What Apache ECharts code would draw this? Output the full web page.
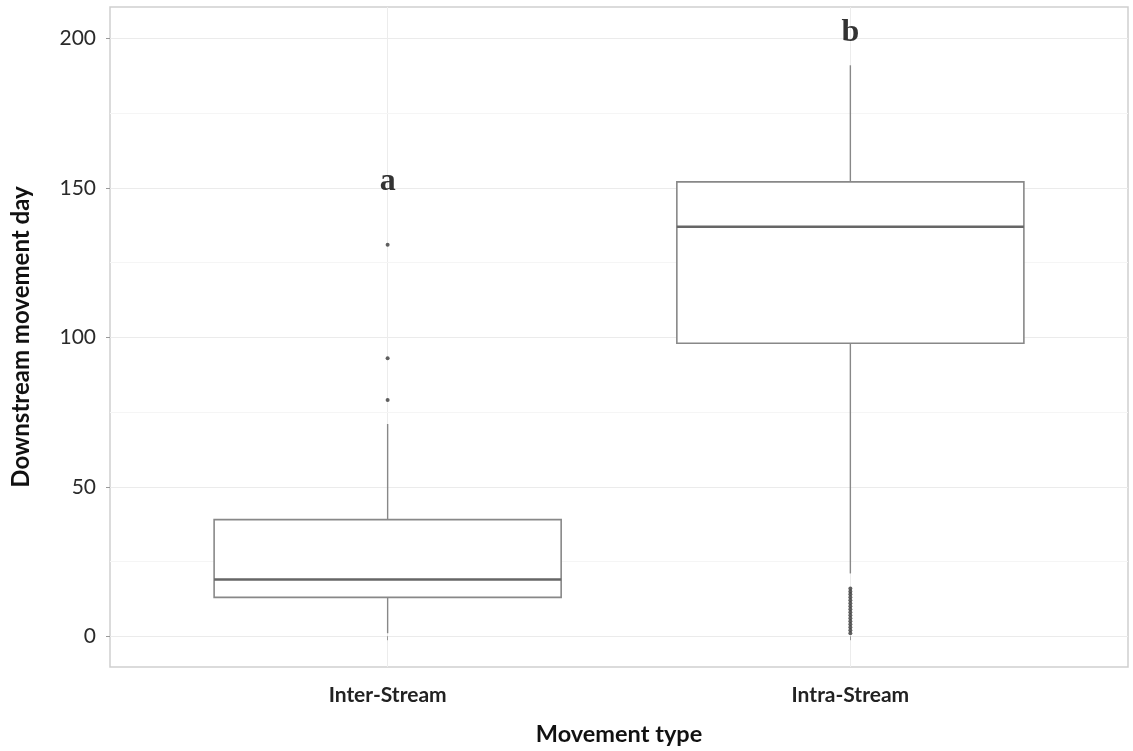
<!DOCTYPE html>
<html>
<head>
<meta charset="utf-8">
<script src="https://cdn.jsdelivr.net/npm/echarts@6/dist/echarts.min.js"></script>
<style>
html,body{margin:0;padding:0;background:#fff;}
#chart{width:1133px;height:751px;}
</style>
</head>
<body>
<div id="chart"></div>
<script>
// ---- data ----
const categories = ['Inter-Stream', 'Intra-Stream'];
const categoryPos = [1, 2];
// [lower whisker, Q1, median, Q3, upper whisker]
const interStats = [1, 13, 19, 39, 71];
const intraStats = [21, 98, 137, 152, 191];
const interOutliers = [79, 93, 131];
const intraOutliers = [1, 2, 3, 4, 5, 6, 7, 8, 9, 10, 11, 12, 13, 14, 15, 16];
const yTicks = [0, 50, 100, 150, 200];
const yMinor = [25, 75, 125, 175];
const letters = ['a', 'b'];
const letterY = [152, 202];

const boxData = [
  [categoryPos[0]].concat(interStats),
  [categoryPos[1]].concat(intraStats)
];
const outlierData = interOutliers.map(v => [categoryPos[0], v])
  .concat(intraOutliers.map(v => [categoryPos[1], v]));
const letterData = letters.map((t, i) => [categoryPos[i], letterY[i]]);

const chart = echarts.init(document.getElementById('chart'));
const labelFont = 'Lato, "Open Sans", sans-serif';

chart.setOption({
  animation: false,
  backgroundColor: '#fff',
  grid: {
    left: 110, right: 5, top: 7, bottom: 84,
    show: true, borderColor: '#cfcfcf', borderWidth: 1.5, backgroundColor: '#fff'
  },
  xAxis: {
    type: 'value', min: 0.4, max: 2.6,
    axisLine: { show: false },
    axisTick: { show: true, customValues: categoryPos, length: 4, lineStyle: { color: '#999' } },
    axisLabel: {
      customValues: categoryPos, margin: 18,
      formatter: v => categories[categoryPos.indexOf(v)] || '',
      fontFamily: labelFont, fontWeight: 'bold', fontSize: 21, color: '#222'
    },
    splitLine: { show: true, lineStyle: { color: '#ececec', width: 1 } },
    name: 'Movement type', nameLocation: 'middle', nameGap: 55,
    nameTextStyle: { fontFamily: labelFont, fontWeight: 'bold', fontSize: 23.5, color: '#111' }
  },
  yAxis: {
    type: 'value', min: -10.3, max: 210.5,
    axisLine: { show: false },
    axisTick: { show: true, customValues: yTicks, length: 4, lineStyle: { color: '#999' } },
    axisLabel: {
      customValues: yTicks, margin: 14,
      fontFamily: labelFont, fontSize: 21, color: '#2a2a2a'
    },
    splitLine: { show: true, lineStyle: { color: '#ebebeb', width: 1 } },
    name: 'Downstream movement day', nameLocation: 'middle', nameGap: 77, nameRotate: 90,
    nameTextStyle: { fontFamily: labelFont, fontWeight: 'bold', fontSize: 24, color: '#111' }
  },
  series: [
    {
      type: 'line', data: [], silent: true, z: 0,
      markLine: {
        silent: true, symbol: 'none', label: { show: false }, z: 0,
        lineStyle: { color: '#f5f5f5', width: 1, type: 'solid' },
        data: yMinor.map(v => ({ yAxis: v }))
      }
    },
    {
      type: 'custom', z: 3,
      encode: { x: 0, y: [1, 2, 3, 4, 5] },
      data: boxData,
      renderItem: function (params, api) {
        const x = api.value(0);
        const lo = api.coord([x, api.value(1)]);
        const q1 = api.coord([x, api.value(2)]);
        const med = api.coord([x, api.value(3)]);
        const q3 = api.coord([x, api.value(4)]);
        const hi = api.coord([x, api.value(5)]);
        const half = api.size([1, 0])[0] * 0.375;
        const cx = q1[0];
        return {
          type: 'group',
          children: [
            { type: 'line', shape: { x1: cx, y1: lo[1], x2: cx, y2: q1[1] },
              style: { stroke: '#888', lineWidth: 1.4 } },
            { type: 'line', shape: { x1: cx, y1: q3[1], x2: cx, y2: hi[1] },
              style: { stroke: '#888', lineWidth: 1.4 } },
            { type: 'rect', shape: { x: cx - half, y: q3[1], width: half * 2, height: q1[1] - q3[1] },
              style: { fill: '#fff', stroke: '#888', lineWidth: 1.6 } },
            { type: 'line', shape: { x1: cx - half, y1: med[1], x2: cx + half, y2: med[1] },
              style: { stroke: '#666', lineWidth: 2.5 } }
          ]
        };
      }
    },
    {
      type: 'scatter', data: outlierData, symbolSize: 4, z: 4,
      itemStyle: { color: '#3a3a3a' }
    },
    {
      type: 'scatter', data: letterData, symbolSize: 0, z: 5,
      label: {
        show: true, position: 'inside',
        formatter: p => letters[p.dataIndex],
        fontFamily: '"Liberation Serif", "DejaVu Serif", serif',
        fontWeight: 'bold', fontSize: 32, color: '#000'
      }
    }
  ]
});
</script>
</body>
</html>
